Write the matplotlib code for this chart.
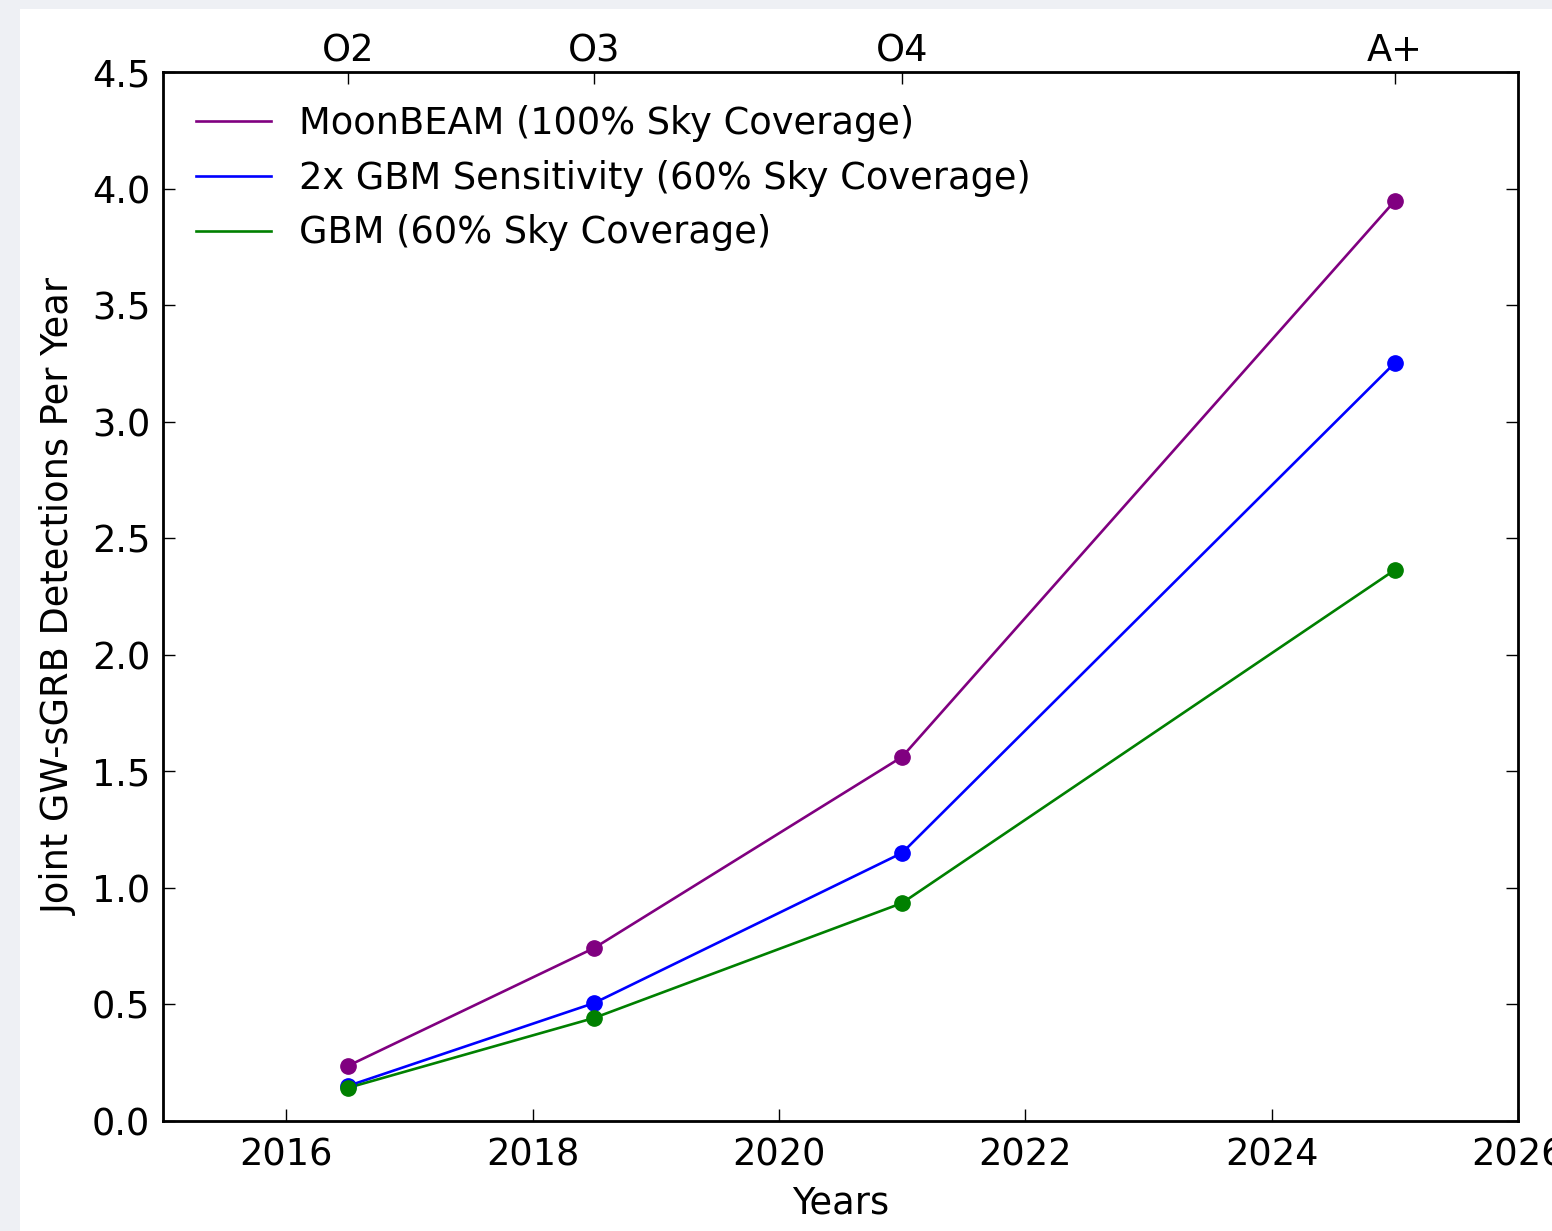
import matplotlib
matplotlib.use("Agg")
import matplotlib.pyplot as plt
from matplotlib.patches import Rectangle

years = [2016.5, 2018.5, 2021.0, 2025.0]
runs = ["O2", "O3", "O4", "A+"]
moonbeam = [0.236, 0.742, 1.562, 3.947]
gbm2x = [0.150, 0.506, 1.150, 3.252]
gbm = [0.142, 0.442, 0.935, 2.364]

labels = ["MoonBEAM (100% Sky Coverage)",
          "2x GBM Sensitivity (60% Sky Coverage)",
          "GBM (60% Sky Coverage)"]
colors = ["purple", "blue", "green"]

W, H = 1552, 1231
fig = plt.figure(figsize=(W/100, H/100), dpi=100, facecolor="#eef0f4")
fig.patches.append(Rectangle((20/W, 0), 1, 1 - 9/H, transform=fig.transFigure,
                             facecolor="white", edgecolor="none", zorder=-10))
ax = fig.add_axes([163/W, 1 - 1121/H, (1518-163)/W, (1121-72)/H])

fs = 26.5
for vals, lab, c in zip([moonbeam, gbm2x, gbm], labels, colors):
    ax.plot(years, vals, color=c, lw=1.9, label=lab)
for vals, c in zip([moonbeam, gbm2x, gbm], colors):
    ax.plot(years, vals, 'o', color=c, ms=11, mec=c)

ax.set_xlim(2015, 2026)
ax.set_ylim(0, 4.5)
ax.set_xticks([2016, 2018, 2020, 2022, 2024, 2026])
ax.set_yticks([0, 0.5, 1.0, 1.5, 2.0, 2.5, 3.0, 3.5, 4.0, 4.5])
ax.set_yticklabels([f"{v:.1f}" for v in ax.get_yticks()])
ax.tick_params(direction="in", length=8.5, width=1, labelsize=fs, pad=9, right=True)
ax.tick_params(axis="x", top=False, pad=11)
for s in ax.spines.values():
    s.set_linewidth(2)

ax2 = ax.twiny()
ax2.set_xlim(ax.get_xlim())
ax2.set_xticks(years)
ax2.set_xticklabels(runs)
ax2.tick_params(direction="in", length=8.5, width=1, labelsize=fs, pad=2)

ax.set_xlabel("Years", fontsize=fs, labelpad=8)
ax.set_ylabel("Joint GW-sGRB Detections Per Year", fontsize=fs, labelpad=10)

ax.legend(loc="upper left", frameon=False, fontsize=fs, handlelength=2.04,
          handletextpad=0.76, labelspacing=0.48, borderaxespad=0.5)

fig.savefig("out.png", dpi=100, facecolor=fig.get_facecolor())
